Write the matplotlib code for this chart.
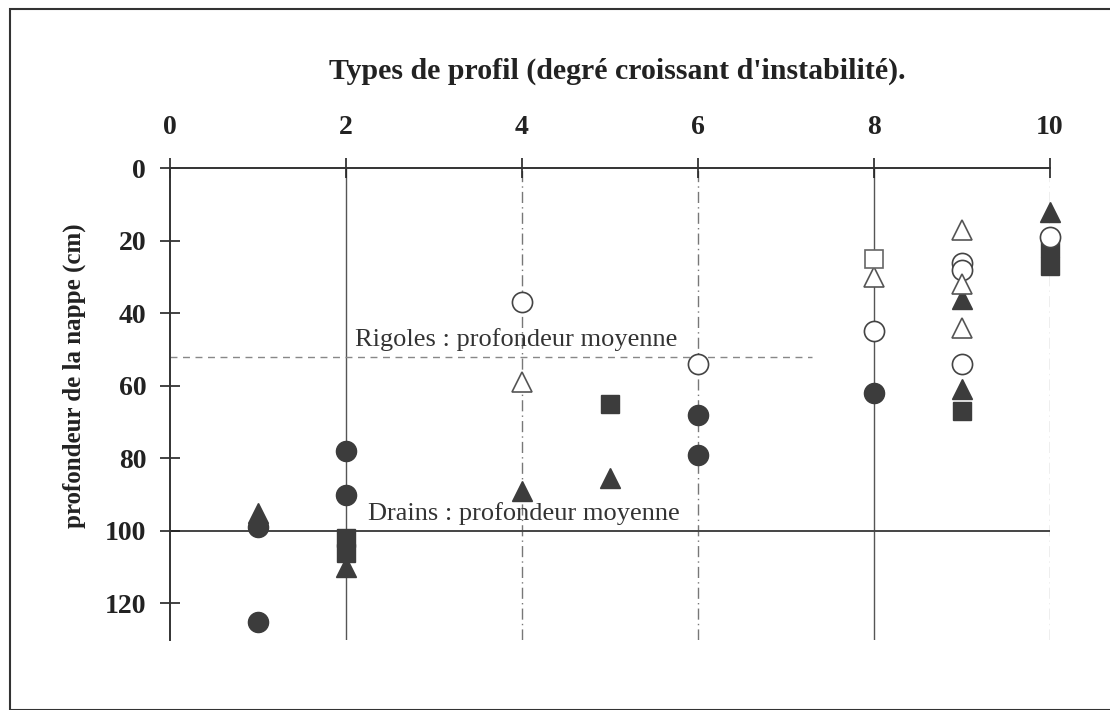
import numpy as np
import matplotlib
matplotlib.use("Agg")
import matplotlib.pyplot as plt

plt.rcParams['font.family'] = ['Liberation Serif', 'DejaVu Serif']

# points: x = type de profil, y = profondeur (cm)
fc_x = [1, 1, 2, 2, 6, 6, 8]                 # filled circles
fc_y = [99, 125, 78, 90, 68, 79, 62]
ft_x = [1, 2, 4, 5, 9, 9, 10]                # filled triangles
ft_y = [95, 110, 89, 85.5, 36, 61, 12]
fs_x = [2, 2, 5, 9, 10, 10]                  # filled squares
fs_y = [102, 106, 65, 67, 22, 27]
oc_x = [4, 6, 8, 9, 9, 9, 10]                # open circles
oc_y = [37, 54, 45, 26, 28, 54, 19]
ot_x = [4, 8, 9, 9, 9]                       # open triangles
ot_y = [59, 30, 17, 32, 44]
os_x = [8]                                   # open squares
os_y = [25]

xticks = [0, 2, 4, 6, 8, 10]
yticks = [0, 20, 40, 60, 80, 100, 120]
rigoles = 52
drains = 100

fig = plt.figure(figsize=(11.1, 7.1), dpi=100)
ax = fig.add_axes([0.153, 0.099, 0.793, 0.664])

dark = '#3c3c3c'
# vertical guide lines
dashdot = (0, (8, 3, 1, 3))
styles = {2: ('-', '#555555'), 4: (dashdot, '#777777'),
          6: (dashdot, '#777777'), 8: ('-', '#555555'),
          10: (dashdot, '#aaaaaa')}
for xv, (ls, c) in styles.items():
    ax.axvline(xv, color=c, lw=1.0, ls=ls, zorder=1)

ax.axhline(drains, color='#444444', lw=1.4, zorder=1)
ax.plot([0, 7.3], [rigoles, rigoles], color='#888888', lw=1.0,
        ls=(0, (5, 4)), zorder=1)

ms = 14.5
kw = dict(zorder=3, clip_on=False, ls='none')
ax.plot(fc_x, fc_y, 'o', color=dark, ms=ms, **kw)
ax.plot(ft_x, ft_y, '^', color=dark, ms=ms, **kw)
ax.plot(fs_x, fs_y, 's', color=dark, ms=ms - 1.5, **kw)
ax.plot(oc_x, oc_y, 'o', mfc='white', mec='#444444', mew=1.2, ms=ms, **kw)
ax.plot(ot_x, ot_y, '^', mfc='white', mec='#555555', mew=1.2, ms=ms, **kw)
ax.plot(os_x, os_y, 's', mfc='white', mec='#666666', mew=1.2, ms=ms - 1.5, **kw)

ax.text(2.1, 49, 'Rigoles : profondeur moyenne', fontsize=19, color='#333333')
ax.text(2.25, 97, 'Drains : profondeur moyenne', fontsize=19, color='#333333')

ax.set_xlim(0, 10)
ax.set_ylim(130, 0)
ax.set_xticks(xticks)
ax.set_yticks(yticks)
ax.xaxis.tick_top()
ax.tick_params(axis='x', direction='inout', length=14, width=1.2, pad=13,
               labelsize=20, colors='#222222')
ax.tick_params(axis='y', direction='inout', length=14, width=1.2, pad=10,
               labelsize=20, colors='#222222')
for lab in ax.get_xticklabels() + ax.get_yticklabels():
    lab.set_fontweight('bold')
ax.spines['right'].set_visible(False)
ax.spines['bottom'].set_visible(False)
for s in ('top', 'left'):
    ax.spines[s].set_linewidth(1.4)
    ax.spines[s].set_color('#333333')

ax.set_ylabel('profondeur de la nappe (cm)', fontsize=18, fontweight='bold',
              color='#222222')
ax.yaxis.set_label_coords(-0.095, 0.56)
fig.text(0.556, 0.90, "Types de profil (degré croissant d'instabilité).",
         ha='center', va='center', fontsize=21.5, fontweight='bold', color='#222222')

# frame around the figure
fig.patches.append(plt.Rectangle((0.009, 0.0), 0.995, 0.987, transform=fig.transFigure,
                                 fill=False, ec='#333333', lw=1.5))

fig.savefig('out.png', dpi=100, facecolor='white')
